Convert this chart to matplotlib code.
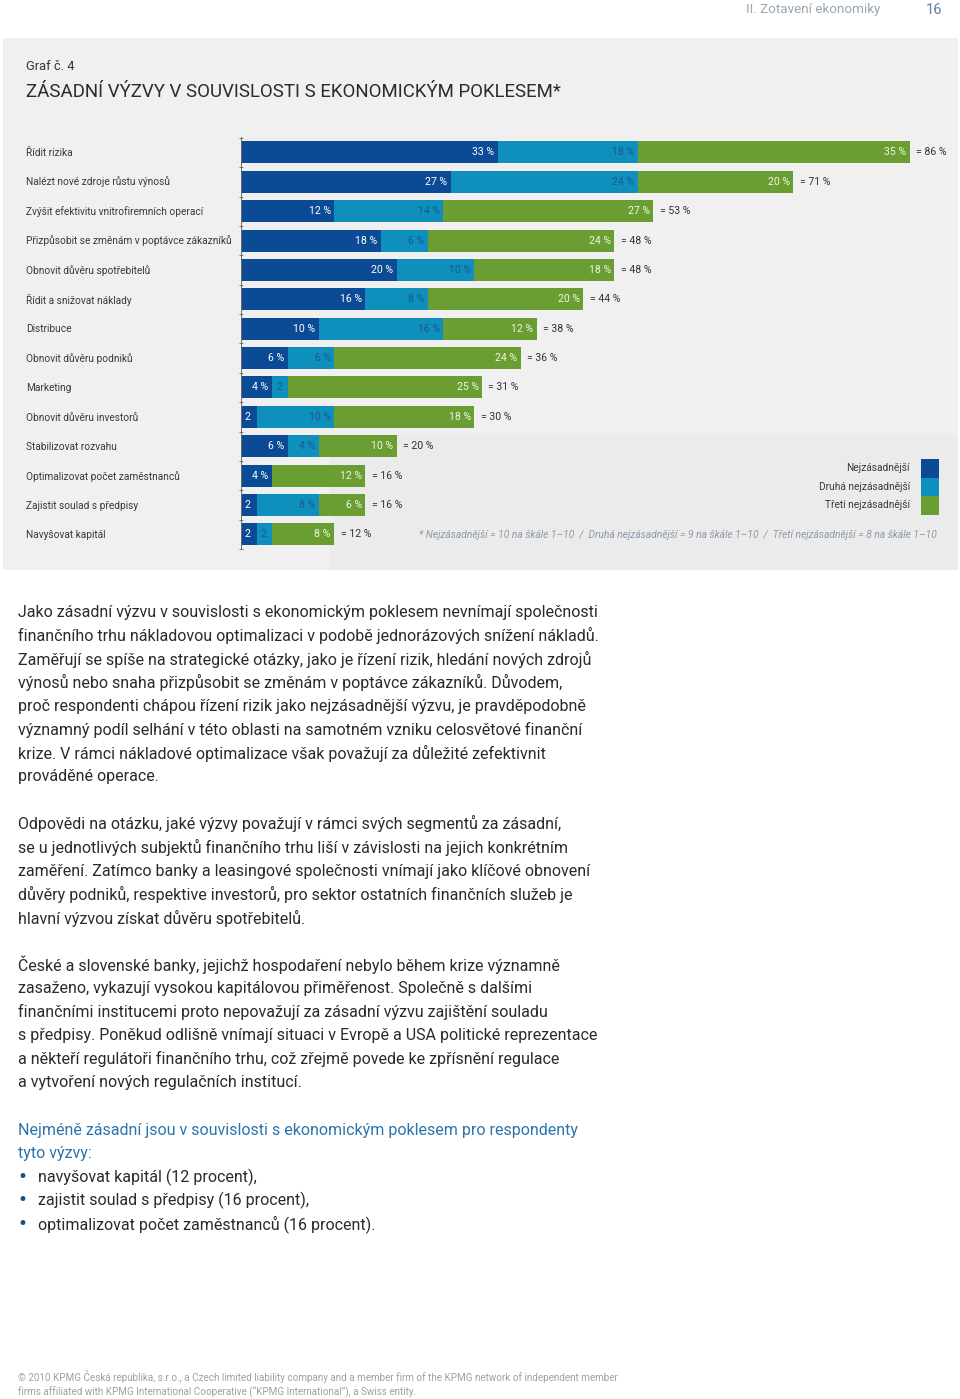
import matplotlib
matplotlib.use("Agg")
import matplotlib.pyplot as plt
from matplotlib.patches import Rectangle

plt.rcParams['font.family'] = ['Roboto', 'DejaVu Sans']

# %% data
categories = [
    "Řídit rizika",
    "Nalézt nové zdroje růstu výnosů",
    "Zvýšit efektivitu vnitrofiremních operací",
    "Přizpůsobit se změnám v poptávce zákazníků",
    "Obnovit důvěru spotřebitelů",
    "Řídit a snižovat náklady",
    "Distribuce",
    "Obnovit důvěru podniků",
    "Marketing",
    "Obnovit důvěru investorů",
    "Stabilizovat rozvahu",
    "Optimalizovat počet zaměstnanců",
    "Zajistit soulad s předpisy",
    "Navyšovat kapitál",
]
first = [33, 27, 12, 18, 20, 16, 10, 6, 4, 2, 6, 4, 2, 2]
second = [18, 24, 14, 6, 10, 8, 16, 6, 2, 10, 4, 0, 8, 2]
third = [35, 20, 27, 24, 18, 20, 12, 24, 25, 18, 10, 12, 6, 8]
totals = [86, 71, 53, 48, 48, 44, 38, 36, 31, 30, 20, 16, 16, 12]

series_names = ["Nejzásadnější", "Druhá nejzásadnější", "Třetí nejzásadnější"]
series_colors = ["#0b4a94", "#0f8fbb", "#6a9e33"]
label_colors = ["#ffffff", "#1a5892", "#eef4e2"]

paragraphs = [
    ["Jako zásadní výzvu v souvislosti s ekonomickým poklesem nevnímají společnosti",
     "finančního trhu nákladovou optimalizaci v podobě jednorázových snížení nákladů.",
     "Zaměřují se spíše na strategické otázky, jako je řízení rizik, hledání nových zdrojů",
     "výnosů nebo snaha přizpůsobit se změnám v poptávce zákazníků. Důvodem,",
     "proč respondenti chápou řízení rizik jako nejzásadnější výzvu, je pravděpodobně",
     "významný podíl selhání v této oblasti na samotném vzniku celosvětové finanční",
     "krize. V rámci nákladové optimalizace však považují za důležité zefektivnit",
     "prováděné operace."],
    ["Odpovědi na otázku, jaké výzvy považují v rámci svých segmentů za zásadní,",
     "se u jednotlivých subjektů finančního trhu liší v závislosti na jejich konkrétním",
     "zaměření. Zatímco banky a leasingové společnosti vnímají jako klíčové obnovení",
     "důvěry podniků, respektive investorů, pro sektor ostatních finančních služeb je",
     "hlavní výzvou získat důvěru spotřebitelů."],
    ["České a slovenské banky, jejichž hospodaření nebylo během krize významně",
     "zasaženo, vykazují vysokou kapitálovou přiměřenost. Společně s dalšími",
     "finančními institucemi proto nepovažují za zásadní výzvu zajištění souladu",
     "s předpisy. Poněkud odlišně vnímají situaci v Evropě a USA politické reprezentace",
     "a někteří regulátoři finančního trhu, což zřejmě povede ke zpřísnění regulace",
     "a vytvoření nových regulačních institucí."],
]
highlight = ["Nejméně zásadní jsou v souvislosti s ekonomickým poklesem pro respondenty",
             "tyto výzvy:"]
bullets = ["navyšovat kapitál (12 procent),",
           "zajistit soulad s předpisy (16 procent),",
           "optimalizovat počet zaměstnanců (16 procent)."]

# %% figure
W, H = 960, 1399
fig = plt.figure(figsize=(W / 100, H / 100), dpi=100)
fig.patch.set_facecolor("white")


def ftext(x, y, s, **kw):
    # x, y in pixels from the top-left corner
    return fig.text(x / W, 1 - y / H, s, **kw)


def frect(x, y, w, h, color, z=-1):
    fig.patches.append(Rectangle((x / W, 1 - (y + h) / H), w / W, h / H,
                                 transform=fig.transFigure, color=color,
                                 zorder=z, lw=0))


# header
ftext(880, 10, "II. Zotavení ekonomiky", ha="right", va="center",
      fontsize=9.7, color="#98a6b4")
ftext(942, 10, "16", ha="right", va="center", fontsize=10.5, color="#5f7f9f")

# grey panel
frect(3, 38, 955, 532, "#f0f0f0")
frect(330, 435, 628, 135, "#ebebec")

ftext(26, 66, "Graf č. 4", ha="left", va="center", fontsize=9.3, color="#333333")
ftext(26, 92, "ZÁSADNÍ VÝZVY V SOUVISLOSTI S EKONOMICKÝM POKLESEM*", ha="left",
      va="center", fontsize=13.45, color="#2b2b2b")

# %% bars
px_per_pct = 7.78
ax = fig.add_axes([241 / W, 1 - 549 / H, (958 - 241) / W, (549 - 137) / H])
ax.set_zorder(2)
ax.set_facecolor("none")
ax.set_xlim(0, (958 - 241) / px_per_pct)
ax.set_ylim(13.46, -0.526)
rows = list(range(len(categories)))

lab_size = 7.3
val_size = 7.6
lefts = [0] * len(categories)
for k, vals in enumerate([first, second, third]):
    ax.barh(rows, vals, left=lefts, height=0.75, color=series_colors[k],
            edgecolor="none")
    for i, v in enumerate(vals):
        if v == 0:
            continue
        if v <= 2:
            ax.text(lefts[i] + 0.5, i, "2", ha="left", va="center",
                    fontsize=val_size, color=label_colors[k])
        else:
            ax.text(lefts[i] + v - 0.45, i, f"{v} %", ha="right", va="center",
                    fontsize=val_size, color=label_colors[k])
    lefts = [l + v for l, v in zip(lefts, vals)]

for i, t in enumerate(totals):
    ax.text(lefts[i] + 0.8, i, f"= {t} %", ha="left", va="center",
            fontsize=val_size, color="#333333")

for i, c in enumerate(categories):
    ftext(26, 152.5 + 29.45 * i, c, ha="left", va="center", fontsize=lab_size,
          color="#3a3a3a")

for s in ["top", "right", "bottom"]:
    ax.spines[s].set_visible(False)
ax.spines["left"].set_color("#6b6b6b")
ax.spines["left"].set_linewidth(0.7)
ax.set_xticks([])
ax.set_yticks([r - 0.5 for r in rows] + [len(rows) - 0.5])
ax.set_yticklabels([])
ax.tick_params(axis="y", length=3, width=0.6, direction="inout", colors="#6b6b6b")

# legend
for k, name in enumerate(series_names):
    frect(921, 459 + 18.5 * k, 18, 18.6, series_colors[k], z=1)
    ftext(910, 468 + 18.5 * k, name, ha="right", va="center", fontsize=lab_size,
          color="#3a3a3a")

ftext(937, 535, "* Nejzásadnější = 10 na škále 1–10  /  Druhá nejzásadnější = 9 na škále 1–10"
      "  /  Třetí nejzásadnější = 8 na škále 1–10", ha="right", va="center",
      fontsize=7.4, style="italic", color="#8c9aa8")

# %% body text
body_size = 11.55
y = 612
for para in paragraphs:
    for line in para:
        ftext(18, y, line, ha="left", va="center", fontsize=body_size, color="#2a2a2a")
        y += 23.55
    y += 23.55

for line in highlight:
    ftext(18, y, line, ha="left", va="center", fontsize=body_size, color="#2a74ad")
    y += 23.55
for line in bullets:
    ftext(22, y, "•", ha="center", va="center", fontsize=17, color="#1c4f8a")
    ftext(38, y, line, ha="left", va="center", fontsize=body_size, color="#2a2a2a")
    y += 23.55

# footer
ftext(18, 1377, "© 2010 KPMG Česká republika, s.r.o., a Czech limited liability company and a "
      "member firm of the KPMG network of independent member", ha="left", va="center",
      fontsize=7.15, color="#a0a0a0")
ftext(18, 1392, "firms affiliated with KPMG International Cooperative (“KPMG International”), "
      "a Swiss entity.", ha="left", va="center", fontsize=7.15, color="#a0a0a0")

fig.savefig("out.png", dpi=100)
